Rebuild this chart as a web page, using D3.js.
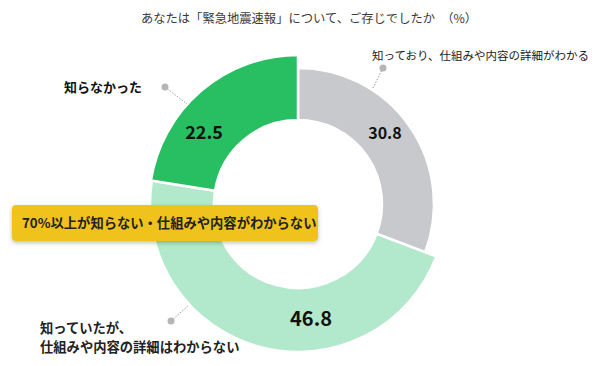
<!DOCTYPE html>
<html><head><meta charset="utf-8">
<script src="https://cdn.jsdelivr.net/npm/d3@7"></script>
<style>
body{margin:0;background:#fff;}
svg{display:block;font-family:"Noto Sans CJK JP","Noto Sans",sans-serif;}
</style></head>
<body><svg id="c" width="600" height="366"></svg>
<script>
const title = "あなたは「緊急地震速報」について、ご存じでしたか　（%）";
const categories = ["知っており、仕組みや内容の詳細がわかる", "知っていたが、仕組みや内容の詳細はわからない", "知らなかった"];
const values = [30.8, 46.8, 22.5];
const valueLabels = ["30.8", "46.8", "22.5"];
const banner = "70%以上が知らない・仕組みや内容がわからない";

const svg = d3.select("#c");
const cx = 298, cy = 204, innerR = 84;
const outerR = [136, 148, 149];
const colors = d3.scaleOrdinal().domain(categories).range(["#c8c9cd", "#b2e8cb", "#28bf62"]);

svg.append("text").attr("x", 309).attr("y", 23).attr("text-anchor", "middle")
  .attr("font-size", 12.3).attr("fill", "#3a3a3a").text(title);

const pie = d3.pie().sort(null).value(d => d.v);
const arcs = pie(categories.map((c, i) => ({c, v: values[i], i})));
const g = svg.append("g").attr("transform", `translate(${cx},${cy})`);
g.selectAll("path").data(arcs).join("path")
  .attr("d", d => d3.arc().innerRadius(innerR).outerRadius(outerR[d.data.i])(d))
  .attr("fill", d => colors(d.data.c))
  .attr("stroke", "#fff").attr("stroke-width", 2.5);

// value labels (placed relative to the centre)
const valPos = [[87, -72, 16], [13, 113, 20], [-94, -73, 18]];
g.selectAll("text.val").data(arcs).join("text").attr("class", "val")
  .attr("x", d => valPos[d.data.i][0]).attr("y", d => valPos[d.data.i][1])
  .attr("text-anchor", "middle").attr("dominant-baseline", "central")
  .attr("font-size", d => valPos[d.data.i][2]).attr("font-weight", "bold")
  .attr("fill", "#111").text(d => valueLabels[d.data.i]);

// leader lines
const leaders = [[[383, 68], [373, 88]], [[171, 321], [189, 305]], [[165, 87], [187, 104]]];
leaders.forEach(l => {
  svg.append("line").attr("x1", l[0][0]).attr("y1", l[0][1]).attr("x2", l[1][0]).attr("y2", l[1][1])
    .attr("stroke", "#999").attr("stroke-width", 1).attr("stroke-dasharray", "1.5,1.5");
  svg.append("circle").attr("cx", l[0][0]).attr("cy", l[0][1]).attr("r", 3.5).attr("fill", "#b5b5b8");
});

// category labels
svg.append("text").attr("x", 372).attr("y", 59.5).attr("font-size", 11.5).attr("fill", "#222").text(categories[0]);
svg.append("text").attr("x", 64).attr("y", 92).attr("font-size", 13).attr("font-weight", "bold").attr("fill", "#111").text(categories[2]);
const bl = svg.append("text").attr("font-size", 13.3).attr("font-weight", "bold").attr("fill", "#222");
bl.append("tspan").attr("x", 40).attr("y", 333).text("知っていたが、");
bl.append("tspan").attr("x", 40).attr("y", 352).text("仕組みや内容の詳細はわからない");

// banner
const defs = svg.append("defs");
const f = defs.append("filter").attr("id", "sh").attr("x", "-10%").attr("y", "-30%").attr("width", "120%").attr("height", "170%");
f.append("feDropShadow").attr("dx", 0).attr("dy", 2).attr("stdDeviation", 2).attr("flood-color", "#000").attr("flood-opacity", 0.25);
svg.append("rect").attr("x", 12).attr("y", 205).attr("width", 306).attr("height", 36).attr("rx", 4)
  .attr("fill", "#f0c21c").attr("filter", "url(#sh)");
svg.append("text").attr("x", 22).attr("y", 228).attr("font-size", 13.3).attr("font-weight", "bold")
  .attr("fill", "#222").text(banner);
</script></body></html>
